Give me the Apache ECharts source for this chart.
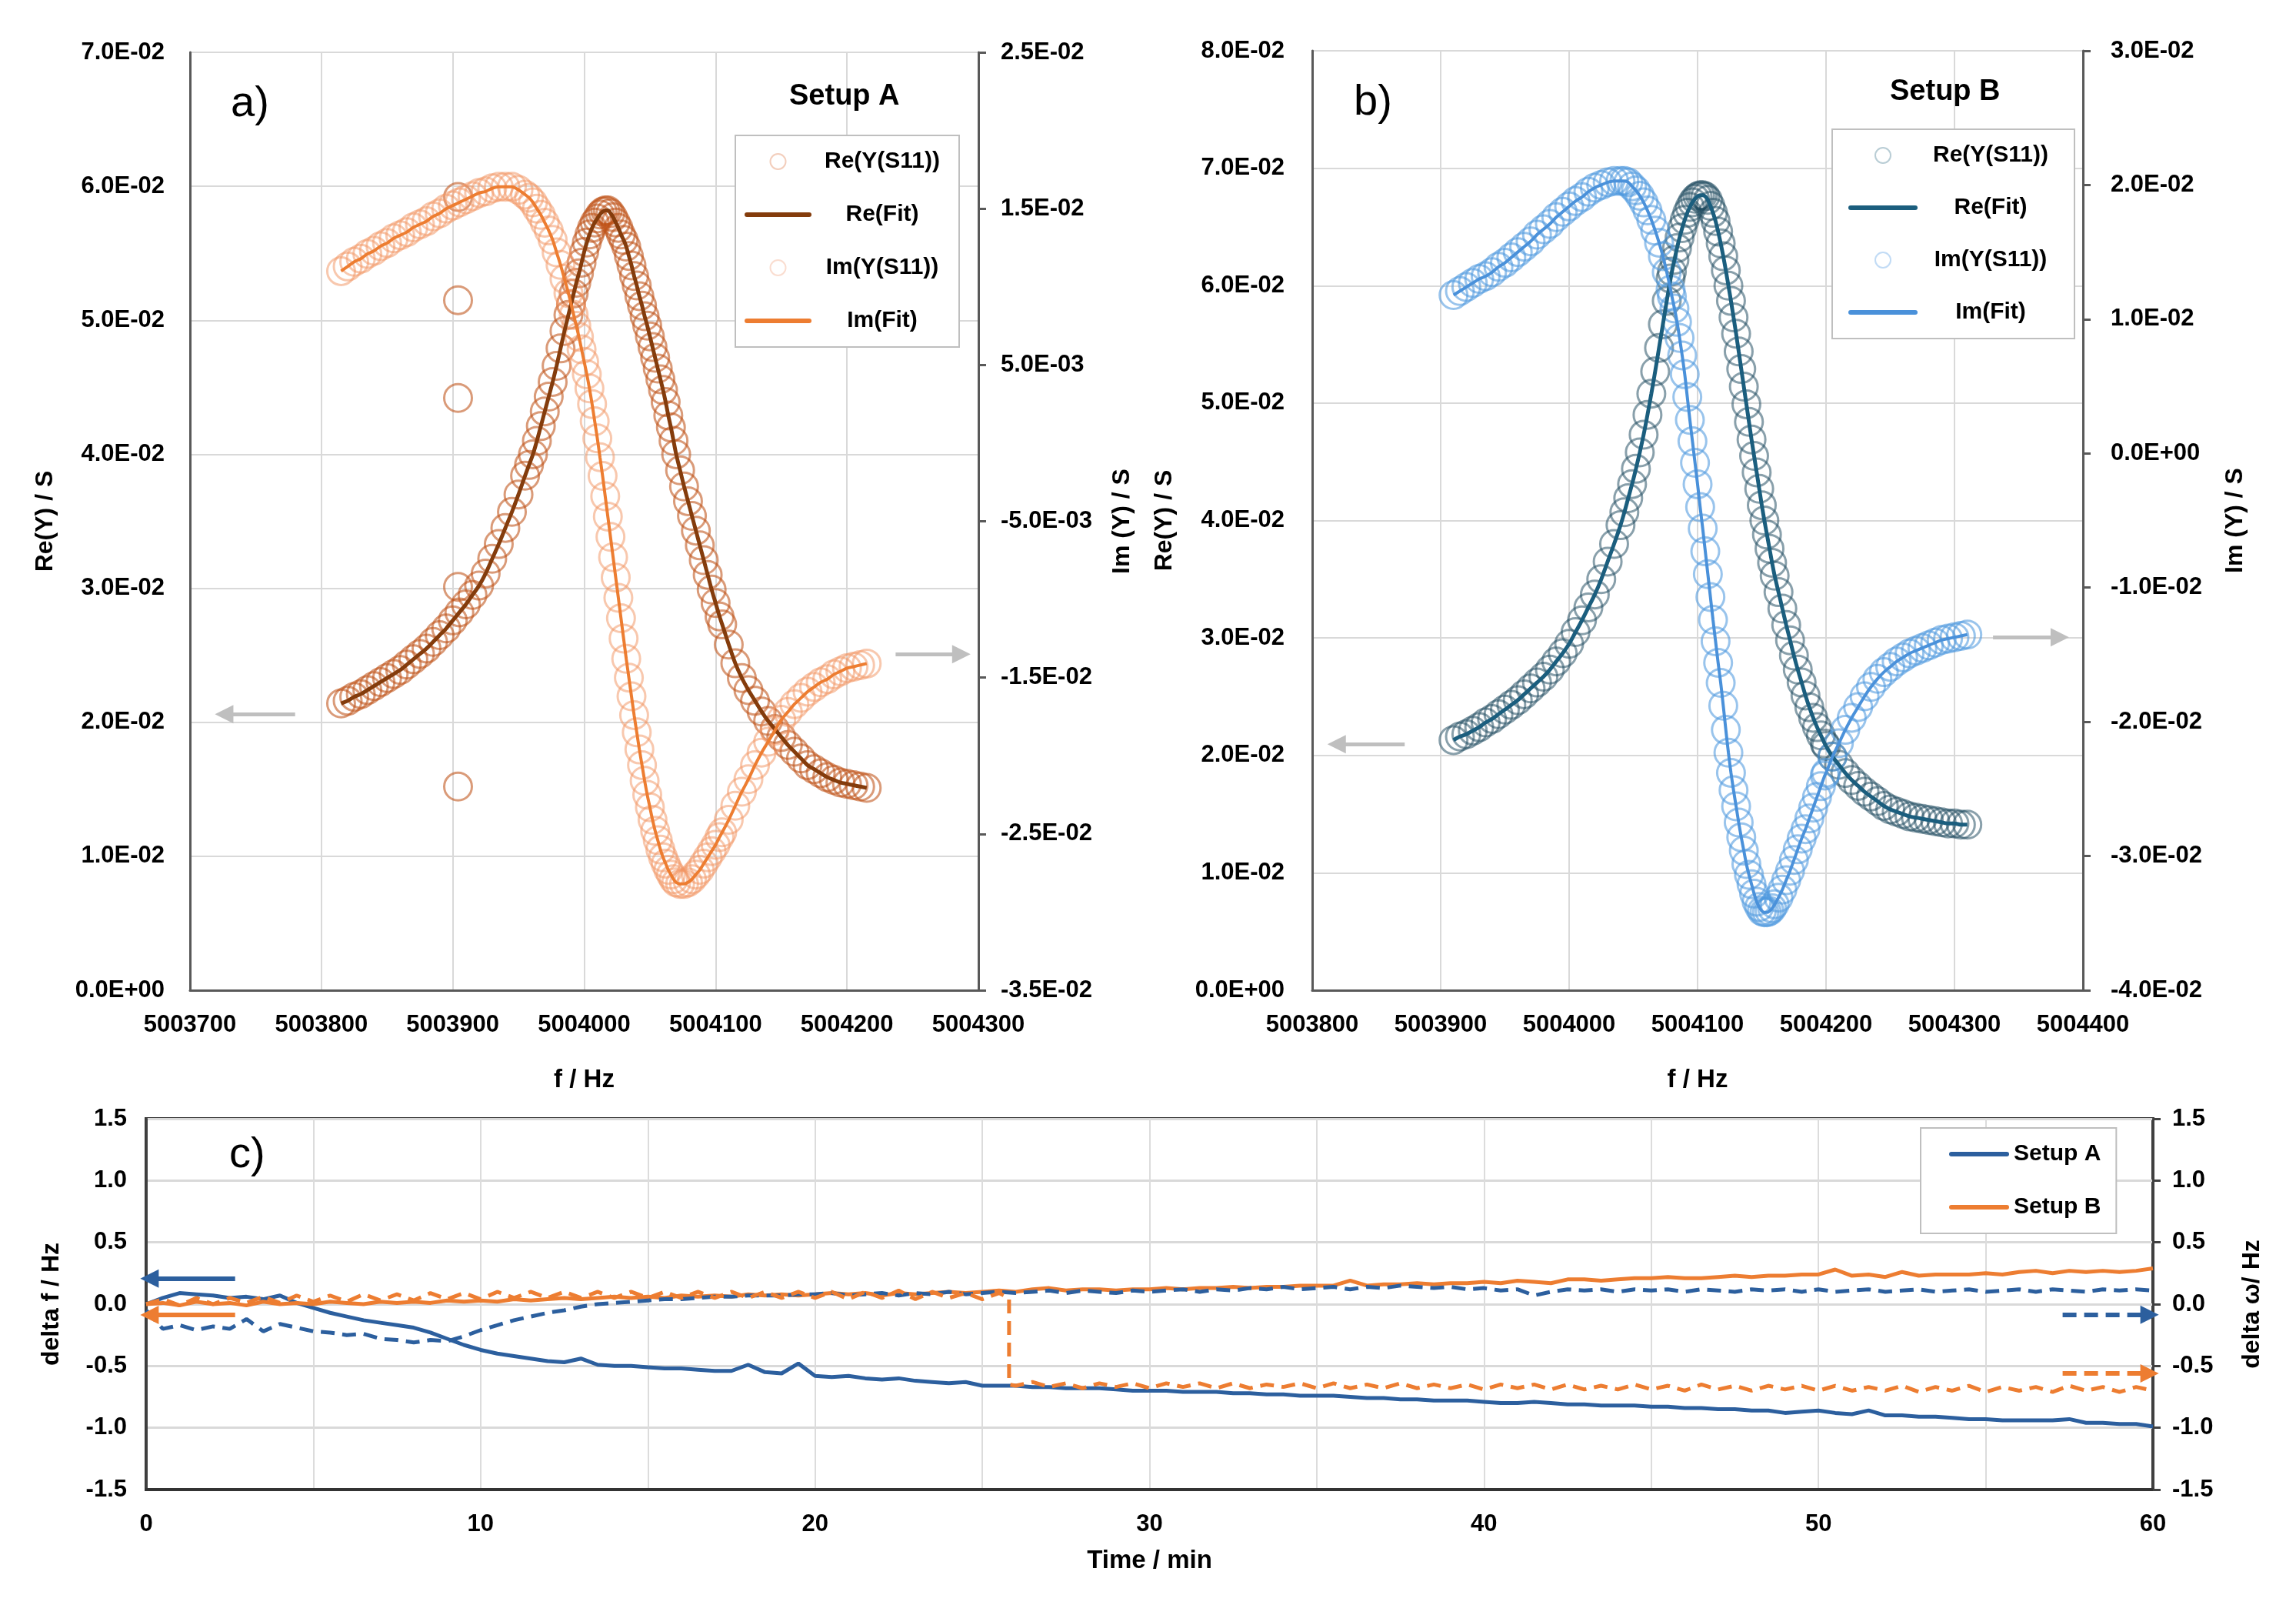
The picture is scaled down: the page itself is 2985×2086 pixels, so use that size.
<!DOCTYPE html>
<html>
<head>
<meta charset="utf-8">
<title>Resonance fits and drift</title>
<script src="https://cdn.jsdelivr.net/npm/echarts@6/dist/echarts.min.js"></script>
<style>
html, body { margin: 0; padding: 0; background: #fff; }
#chart { width: 2985px; height: 2086px; }
</style>
</head>
<body>
<div id="chart"></div>
<script>
// ---- panel a) Setup A : frequency sweep (Hz) and admittance (S) ----
var freqA = [5003815,5003820,5003825,5003830,5003835,5003840,5003845,5003850,5003855,5003860,
  5003865,5003870,5003875,5003880,5003885,5003890,5003895,5003900,5003905,5003910,
  5003915,5003920,5003925,5003930,5003935,5003940,5003945,5003950,5003955,
  5003958,5003961,5003964,5003967,5003970,5003973,5003976,5003979,5003982,5003985,5003988,
  5003990,5003992,5003994,5003996,5003998,5004000,5004002,5004004,5004006,5004008,
  5004010,5004012,5004014,5004016,5004018,5004020,5004022,5004024,5004026,5004028,
  5004030,5004032,5004034,5004036,5004038,5004040,5004042,5004044,5004046,5004048,
  5004050,5004052,5004054,5004056,5004058,5004060,5004062,5004064,5004066,5004068,5004070,
  5004073,5004076,5004079,5004082,5004085,5004088,5004091,5004094,5004097,5004100,5004103,
  5004105,5004110,5004115,5004120,5004125,5004130,5004135,5004140,5004145,5004150,
  5004155,5004160,5004165,5004170,5004175,5004180,5004185,5004190,5004195,5004200,
  5004205,5004210,5004215];
var reA = [0.0214,0.0216,0.0219,0.0221,0.0224,0.0227,0.0230,0.0233,0.0236,0.0239,
  0.0243,0.0247,0.0251,0.0255,0.0260,0.0265,0.0270,0.0276,0.0282,0.0288,
  0.0295,0.0302,0.0311,0.0322,0.0333,0.0345,0.0357,0.0370,0.0384,
  0.0392,0.0400,0.0410,0.0421,0.0432,0.0443,0.0454,0.0466,0.0479,0.0492,0.0504,
  0.0512,0.0520,0.0528,0.0535,0.0543,0.0551,0.0558,0.0564,0.0569,0.0573,
  0.0576,0.0579,0.0581,0.0582,0.0582,0.0580,0.0577,0.0573,0.0569,0.0564,
  0.0560,0.0555,0.0548,0.0541,0.0533,0.0526,0.0518,0.0511,0.0503,0.0496,
  0.0488,0.0480,0.0472,0.0464,0.0456,0.0448,0.0439,0.0429,0.0420,0.0410,0.0400,
  0.0388,0.0376,0.0365,0.0354,0.0343,0.0332,0.0321,0.0310,0.0299,0.0289,0.0279,
  0.0273,0.0258,0.0244,0.0233,0.0224,0.0216,0.0208,0.0201,0.0195,0.0189,
  0.0183,0.0178,0.0173,0.0168,0.0165,0.0162,0.0159,0.0157,0.0155,0.0154,
  0.0153,0.0152,0.0151];
var imA = [0.0110,0.0113,0.0116,0.0118,0.0121,0.0123,0.0126,0.0128,0.0131,0.0133,
  0.0135,0.0138,0.0140,0.0142,0.0145,0.0147,0.0150,0.0152,0.0154,0.0156,
  0.0158,0.0160,0.0161,0.0163,0.0164,0.0164,0.0164,0.0162,0.0159,
  0.0157,0.0154,0.0150,0.0146,0.0141,0.0136,0.0130,0.0122,0.0114,0.0105,0.0096,
  0.0089,0.0082,0.0075,0.0068,0.0060,0.0052,0.0044,0.0035,0.0025,0.0014,
  0.0003,-0.0009,-0.0021,-0.0034,-0.0047,-0.0060,-0.0073,-0.0086,-0.0099,-0.0112,
  -0.0125,-0.0138,-0.0150,-0.0162,-0.0174,-0.0185,-0.0196,-0.0206,-0.0216,-0.0225,
  -0.0233,-0.0241,-0.0248,-0.0254,-0.0260,-0.0265,-0.0269,-0.0273,-0.0276,-0.0279,-0.0281,
  -0.0282,-0.0282,-0.0281,-0.0279,-0.0276,-0.0273,-0.0269,-0.0265,-0.0261,-0.0257,-0.0252,
  -0.0249,-0.0241,-0.0232,-0.0223,-0.0215,-0.0206,-0.0198,-0.0191,-0.0184,-0.0177,
  -0.0172,-0.0167,-0.0163,-0.0159,-0.0156,-0.0153,-0.0151,-0.0148,-0.0146,-0.0144,
  -0.0143,-0.0142,-0.0141];
// stray Re points near 5003904 Hz
var outliersA = [[5003904, 0.0592], [5003904, 0.0515], [5003904, 0.0442], [5003904, 0.0301], [5003904, 0.0152]];

// ---- panel b) Setup B ----
var freqB = [5003910,5003915,5003920,5003925,5003930,5003935,5003940,5003945,5003950,5003955,
  5003960,5003965,5003970,5003975,5003980,5003985,5003990,5003995,5004000,5004005,
  5004010,5004015,5004020,5004025,5004030,5004035,5004040,
  5004043,5004046,5004049,5004052,5004055,5004058,5004061,5004064,5004067,5004070,5004073,5004076,5004079,
  5004080,5004082,5004084,5004086,5004088,5004090,5004092,5004094,5004096,5004098,
  5004100,5004102,5004104,5004106,5004108,5004110,5004112,5004114,5004116,5004118,
  5004120,5004122,5004124,5004126,5004128,5004130,5004132,5004134,5004136,5004138,
  5004140,5004142,5004144,5004146,5004148,5004150,5004152,5004154,5004156,5004158,5004160,
  5004163,5004166,5004169,5004172,5004175,5004178,5004181,5004184,5004187,5004190,5004193,5004196,5004199,
  5004200,5004205,5004210,5004215,5004220,5004225,5004230,5004235,5004240,5004245,
  5004250,5004255,5004260,5004265,5004270,5004275,5004280,5004285,5004290,5004295,
  5004300,5004305,5004310];
var reB = [0.0213,0.0216,0.0218,0.0221,0.0224,0.0228,0.0231,0.0235,0.0239,0.0243,
  0.0247,0.0252,0.0257,0.0262,0.0267,0.0273,0.0280,0.0287,0.0295,0.0305,
  0.0315,0.0326,0.0337,0.0350,0.0365,0.0380,0.0396,
  0.0407,0.0419,0.0431,0.0444,0.0458,0.0473,0.0490,0.0508,0.0527,0.0547,0.0567,0.0587,0.0606,
  0.0612,0.0622,0.0632,0.0641,0.0649,0.0656,0.0662,0.0667,0.0671,0.0674,
  0.0676,0.0677,0.0677,0.0676,0.0673,0.0668,0.0662,0.0655,0.0646,0.0636,
  0.0625,0.0613,0.0600,0.0587,0.0573,0.0559,0.0544,0.0529,0.0514,0.0499,
  0.0484,0.0469,0.0455,0.0441,0.0427,0.0413,0.0400,0.0388,0.0376,0.0364,0.0353,
  0.0339,0.0325,0.0311,0.0298,0.0285,0.0273,0.0262,0.0251,0.0241,0.0232,0.0224,0.0217,0.0210,
  0.0208,0.0199,0.0192,0.0185,0.0179,0.0174,0.0169,0.0165,0.0161,0.0157,
  0.0154,0.0152,0.0150,0.0148,0.0147,0.0146,0.0145,0.0144,0.0143,0.0142,
  0.0142,0.0141,0.0141];
var imB = [0.0118,0.0121,0.0124,0.0127,0.0130,0.0132,0.0135,0.0139,0.0142,0.0146,
  0.0150,0.0154,0.0158,0.0163,0.0167,0.0171,0.0176,0.0180,0.0184,0.0188,
  0.0191,0.0195,0.0198,0.0200,0.0202,0.0203,0.0203,
  0.0203,0.0202,0.0199,0.0196,0.0192,0.0187,0.0181,0.0174,0.0166,0.0157,0.0147,0.0135,0.0122,
  0.0117,0.0108,0.0098,0.0086,0.0073,0.0059,0.0042,0.0025,0.0009,-0.0007,
  -0.0023,-0.0040,-0.0056,-0.0073,-0.0090,-0.0107,-0.0124,-0.0140,-0.0156,-0.0171,
  -0.0188,-0.0206,-0.0223,-0.0238,-0.0251,-0.0263,-0.0275,-0.0286,-0.0296,-0.0306,
  -0.0314,-0.0321,-0.0328,-0.0334,-0.0338,-0.0341,-0.0342,-0.0342,-0.0341,-0.0339,-0.0336,
  -0.0331,-0.0325,-0.0318,-0.0311,-0.0303,-0.0295,-0.0287,-0.0280,-0.0272,-0.0264,-0.0256,-0.0248,-0.0240,
  -0.0238,-0.0226,-0.0216,-0.0206,-0.0197,-0.0189,-0.0181,-0.0174,-0.0168,-0.0163,
  -0.0159,-0.0155,-0.0152,-0.0149,-0.0147,-0.0145,-0.0143,-0.0141,-0.0139,-0.0138,
  -0.0137,-0.0136,-0.0135];

// ---- panel c) drift over time (min) ----
var time = [0,0.5,1,1.5,2,2.5,3,3.5,4,4.5,5,5.5,6,6.5,7,7.5,8,8.5,9,9.5,
  10,10.5,11,11.5,12,12.5,13,13.5,14,14.5,15,15.5,16,16.5,17,17.5,18,18.5,19,19.5,
  20,20.5,21,21.5,22,22.5,23,23.5,24,24.5,25,25.5,26,26.5,27,27.5,28,28.5,29,29.5,
  30,30.5,31,31.5,32,32.5,33,33.5,34,34.5,35,35.5,36,36.5,37,37.5,38,38.5,39,39.5,
  40,40.5,41,41.5,42,42.5,43,43.5,44,44.5,45,45.5,46,46.5,47,47.5,48,48.5,49,49.5,
  50,50.5,51,51.5,52,52.5,53,53.5,54,54.5,55,55.5,56,56.5,57,57.5,58,58.5,59,59.5,60];
var dfA = [0.00,0.05,0.09,0.08,0.07,0.05,0.06,0.04,0.07,0.01,
  -0.03,-0.07,-0.10,-0.13,-0.15,-0.17,-0.19,-0.23,-0.28,-0.33,
  -0.37,-0.40,-0.42,-0.44,-0.46,-0.47,-0.44,-0.49,-0.50,-0.50,
  -0.51,-0.52,-0.52,-0.53,-0.54,-0.54,-0.49,-0.55,-0.56,-0.48,
  -0.58,-0.59,-0.58,-0.60,-0.61,-0.60,-0.62,-0.63,-0.64,-0.63,
  -0.66,-0.66,-0.66,-0.67,-0.67,-0.68,-0.68,-0.68,-0.69,-0.70,
  -0.70,-0.70,-0.71,-0.71,-0.71,-0.72,-0.72,-0.73,-0.73,-0.74,
  -0.74,-0.74,-0.75,-0.76,-0.76,-0.77,-0.77,-0.78,-0.78,-0.78,
  -0.79,-0.80,-0.80,-0.79,-0.80,-0.81,-0.81,-0.82,-0.82,-0.82,
  -0.83,-0.83,-0.84,-0.84,-0.85,-0.85,-0.86,-0.86,-0.88,-0.87,
  -0.86,-0.88,-0.89,-0.86,-0.90,-0.90,-0.91,-0.91,-0.92,-0.93,
  -0.93,-0.94,-0.94,-0.94,-0.94,-0.93,-0.96,-0.96,-0.97,-0.97,-0.99];
var dwA = [-0.05,-0.20,-0.17,-0.21,-0.18,-0.20,-0.12,-0.22,-0.16,-0.19,
  -0.22,-0.23,-0.25,-0.24,-0.28,-0.29,-0.31,-0.29,-0.30,-0.26,
  -0.21,-0.17,-0.13,-0.10,-0.07,-0.05,-0.02,0.00,0.01,0.02,
  0.03,0.04,0.04,0.05,0.06,0.06,0.07,0.07,0.07,0.08,
  0.08,0.09,0.07,0.08,0.09,0.07,0.09,0.08,0.10,0.08,
  0.09,0.10,0.09,0.10,0.11,0.09,0.11,0.10,0.09,0.11,
  0.10,0.11,0.12,0.10,0.12,0.11,0.13,0.12,0.14,0.12,
  0.13,0.14,0.12,0.14,0.13,0.15,0.14,0.13,0.14,0.12,
  0.13,0.11,0.12,0.07,0.10,0.12,0.11,0.12,0.10,0.12,
  0.11,0.12,0.10,0.12,0.11,0.10,0.12,0.11,0.12,0.10,
  0.12,0.10,0.11,0.12,0.10,0.11,0.12,0.10,0.11,0.12,
  0.10,0.11,0.12,0.10,0.12,0.11,0.10,0.12,0.11,0.12,0.11];
var dfB = [0.00,0.01,-0.01,0.02,0.00,0.01,-0.01,0.02,0.00,0.01,
  0.00,0.02,0.01,0.00,0.02,0.01,0.02,0.01,0.03,0.02,
  0.03,0.02,0.04,0.03,0.04,0.05,0.04,0.05,0.06,0.05,
  0.06,0.05,0.07,0.06,0.07,0.06,0.08,0.07,0.08,0.07,
  0.08,0.09,0.08,0.09,0.07,0.09,0.08,0.09,0.10,0.09,
  0.10,0.11,0.10,0.12,0.13,0.11,0.12,0.12,0.11,0.12,
  0.12,0.13,0.12,0.13,0.13,0.14,0.13,0.14,0.14,0.15,
  0.15,0.15,0.19,0.15,0.16,0.16,0.17,0.16,0.17,0.17,
  0.18,0.17,0.19,0.18,0.17,0.20,0.20,0.19,0.20,0.21,
  0.21,0.22,0.21,0.21,0.22,0.23,0.22,0.23,0.23,0.24,
  0.24,0.28,0.23,0.24,0.22,0.26,0.23,0.24,0.24,0.24,
  0.25,0.24,0.26,0.27,0.25,0.27,0.26,0.27,0.26,0.27,0.29];
var dwB = [0.00,0.04,-0.01,0.05,0.00,0.05,0.01,0.06,0.01,0.07,
  0.02,0.07,0.02,0.08,0.03,0.08,0.03,0.09,0.04,0.09,
  0.04,0.10,0.05,0.10,0.05,0.10,0.05,0.10,0.05,0.10,
  0.05,0.10,0.05,0.10,0.05,0.10,0.05,0.10,0.05,0.10,
  0.05,0.10,0.04,0.10,0.05,0.11,0.04,0.10,0.05,0.09,
  0.04,0.09,
  -0.66,-0.63,-0.67,-0.64,-0.68,-0.64,-0.67,-0.64,
  -0.68,-0.64,-0.67,-0.64,-0.68,-0.64,-0.68,-0.65,-0.67,-0.64,
  -0.68,-0.64,-0.68,-0.65,-0.68,-0.64,-0.68,-0.65,-0.68,-0.65,
  -0.69,-0.65,-0.68,-0.65,-0.69,-0.65,-0.69,-0.66,-0.69,-0.65,
  -0.69,-0.66,-0.70,-0.65,-0.69,-0.66,-0.70,-0.66,-0.69,-0.66,
  -0.70,-0.66,-0.70,-0.67,-0.70,-0.66,-0.71,-0.67,-0.70,-0.66,
  -0.71,-0.67,-0.70,-0.67,-0.71,-0.66,-0.70,-0.67,-0.71,-0.67,-0.70];
// the Setup B omega trace steps down at 25.8 min
var stepB = [[25.8, 0.05], [25.8, -0.65]];

var FONT = "'Liberation Sans', Arial, sans-serif";
var BLUE = '#2C5F9E', ORANGE = '#ED7D31', ARROW = '#bfbfbf';

function pairs(xs, ys) {
  var out = [];
  for (var i = 0; i < xs.length; i++) out.push([xs[i], ys[i]]);
  return out;
}
function sci(v) {
  if (Math.abs(v) < 1e-10) return '0.0E+00';
  var p = v.toExponential(1).split('e');
  var e = parseInt(p[1], 10);
  return p[0] + 'E' + (e < 0 ? '-' : '+') + (Math.abs(e) < 10 ? '0' : '') + Math.abs(e);
}
var bwData = pairs(time.slice(0, 52), dwB.slice(0, 52)).concat(stepB, pairs(time.slice(52), dwB.slice(52)));

function txt(size, weight) {
  return { fontSize: size, fontWeight: weight || 'bold', color: '#000', fontFamily: FONT };
}
function freqAxis(grid, min, max) {
  return {
    gridIndex: grid, type: 'value', min: min, max: max, interval: 100,
    name: 'f / Hz', nameLocation: 'middle', nameGap: 100, nameTextStyle: txt(33),
    axisLine: { show: true, onZero: false, lineStyle: { color: '#595959', width: 3 } },
    axisTick: { show: false },
    axisLabel: Object.assign(txt(31), { margin: 30, hideOverlap: false, formatter: function (v) { return String(Math.round(v)); } }),
    splitLine: { show: true, lineStyle: { color: '#d9d9d9', width: 2 } }
  };
}
function sAxis(grid, pos, min, max, name, gap, margin) {
  return {
    gridIndex: grid, type: 'value', position: pos, min: min, max: max, interval: 0.01,
    name: name, nameLocation: 'middle', nameRotate: 90, nameGap: gap, nameTextStyle: txt(32),
    axisLine: { show: true, onZero: false, lineStyle: { color: '#595959', width: 3 } },
    axisTick: { show: pos === 'right', length: 10, lineStyle: { color: '#595959', width: 3 } },
    axisLabel: Object.assign(txt(31), { margin: margin, hideOverlap: false, formatter: sci }),
    splitLine: { show: pos === 'left', lineStyle: { color: '#d9d9d9', width: 2 } }
  };
}
function cAxis(pos, name, gap) {
  return {
    gridIndex: 2, type: 'value', position: pos, min: -1.5, max: 1.5, interval: 0.5,
    name: name, nameLocation: 'middle', nameRotate: 90, nameGap: gap, nameTextStyle: txt(32),
    axisLine: { show: true, onZero: false, lineStyle: { color: '#404040', width: 3 } },
    axisTick: { show: pos === 'right', length: 10, lineStyle: { color: '#404040', width: 3 } },
    axisLabel: Object.assign(txt(31), { margin: 25, hideOverlap: false, formatter: function (v) { return v.toFixed(1); } }),
    splitLine: { show: pos === 'left', lineStyle: { color: '#d9d9d9', width: 3 } }
  };
}
function arrow(from, to, color, width, dashed) {
  return {
    silent: true, animation: false, symbol: ['none', 'triangle'], symbolSize: [24, 24],
    label: { show: false }, emphasis: { disabled: true },
    lineStyle: { color: color, width: width, type: dashed ? [18, 10] : 'solid', opacity: 1 },
    data: [[{ coord: from }, { coord: to }]]
  };
}
function dots(name, x, y, data, color) {
  return {
    name: name, type: 'scatter', xAxisIndex: x, yAxisIndex: y, data: data, z: 2,
    symbol: 'circle', symbolSize: 36, animation: false, silent: true,
    itemStyle: { color: 'rgba(0,0,0,0)', borderColor: color, borderWidth: 3 }
  };
}
function fit(name, x, y, data, color, width, mark) {
  return {
    name: name, type: 'line', xAxisIndex: x, yAxisIndex: y, data: data, z: 3,
    symbol: 'none', showSymbol: false, smooth: 0.3, animation: false, silent: true,
    itemStyle: { color: color }, lineStyle: { color: color, width: width }, markLine: mark
  };
}
function trace(name, y, data, color, dashed, mark) {
  return {
    name: name, type: 'line', xAxisIndex: 2, yAxisIndex: y, data: data, z: 3,
    symbol: 'none', showSymbol: false, animation: false, silent: true,
    itemStyle: { color: color },
    lineStyle: { color: color, width: 5, type: dashed ? [18, 10] : 'solid' }, markLine: mark
  };
}
// legend entries: circles drawn lighter, line entries as a thick bar without the marker dot
function dotItem(name, color) { return { name: name, itemStyle: { color: 'rgba(0,0,0,0)', borderColor: color, borderWidth: 2 } }; }
function lineItem(name) { return { name: name, itemStyle: { opacity: 0 }, lineStyle: { width: 6, cap: 'round' } }; }
function panelLegend(left, top, pad, gap, iconW, textW, items) {
  return {
    orient: 'vertical', left: left, top: top, padding: pad, itemGap: gap,
    itemWidth: iconW, itemHeight: 20, selectedMode: false,
    borderColor: '#bfbfbf', borderWidth: 2, backgroundColor: '#fff',
    data: items,
    formatter: function (n) { return '{t|' + n.replace(/\u200b/g, '') + '}'; },
    textStyle: { rich: { t: { width: textW, align: 'center', fontSize: 30, fontWeight: 'bold', color: '#000', fontFamily: FONT, lineHeight: 34 } } }
  };
}
function label(text, left, top, size, weight) {
  return { text: text, left: left, top: top, padding: 0, textStyle: txt(size, weight) };
}

var ZW = '\u200b';
var option = {
  backgroundColor: '#fff',
  animation: false,
  textStyle: { fontFamily: FONT },
  title: [
    label('a)', 300, 108, 56, 'normal'),
    label('b)', 1760, 106, 56, 'normal'),
    label('c)', 298, 1474, 56, 'normal'),
    label('Setup A', 1026, 107, 38),
    label('Setup B', 2457, 101, 38)
  ],
  legend: [
    panelLegend(956, 176, [19, 10, 19, 12], 39, 81, 180, [
      dotItem('Re(Y(S11))', 'rgba(222,120,70,0.45)'), lineItem('Re(Fit)'),
      dotItem('Im(Y(S11))', 'rgba(240,150,110,0.4)'), lineItem('Im(Fit)')]),
    panelLegend(2382, 168, [19, 16, 19, 21], 38, 84, 186, [
      dotItem('Re(Y(S11))' + ZW, 'rgba(80,130,150,0.5)'), lineItem('Re(Fit)' + ZW),
      dotItem('Im(Y(S11))' + ZW, 'rgba(100,165,230,0.5)'), lineItem('Im(Fit)' + ZW)]),
    {
      orient: 'vertical', left: 2497, top: 1466, padding: [17, 20, 17, 37], itemGap: 35,
      itemWidth: 72, itemHeight: 20, selectedMode: false,
      borderColor: '#bfbfbf', borderWidth: 2, backgroundColor: '#fff',
      data: [lineItem('Setup A'), lineItem('Setup B')],
      textStyle: { fontSize: 30, fontWeight: 'bold', color: '#000', fontFamily: FONT, lineHeight: 34, padding: [0, 0, 0, 4] }
    }
  ],
  grid: [
    { left: 247, top: 68, width: 1025, height: 1219, show: true, borderColor: '#8c8c8c', borderWidth: 2, containLabel: false, outerBoundsMode: 'none' },
    { left: 1706, top: 66, width: 1002, height: 1221, show: true, borderColor: '#8c8c8c', borderWidth: 2, containLabel: false, outerBoundsMode: 'none' },
    { left: 190, top: 1454, width: 2609, height: 482, show: true, borderColor: '#333', borderWidth: 4, containLabel: false, outerBoundsMode: 'none' }
  ],
  xAxis: [
    freqAxis(0, 5003700, 5004300),
    freqAxis(1, 5003800, 5004400),
    {
      gridIndex: 2, type: 'value', min: 0, max: 60, interval: 5,
      name: 'Time / min', nameLocation: 'middle', nameGap: 76, nameTextStyle: txt(33),
      axisLine: { show: true, onZero: false, lineStyle: { color: '#333', width: 4 } },
      axisTick: { show: false },
      axisLabel: Object.assign(txt(31), { margin: 30, hideOverlap: false, formatter: function (v) { return v % 10 === 0 ? String(v) : ''; } }),
      splitLine: { show: true, lineStyle: { color: '#dcdcdc', width: 2 } }
    }
  ],
  yAxis: [
    sAxis(0, 'left', 0, 0.07, 'Re(Y) / S', 172, 33),
    sAxis(0, 'right', -0.035, 0.025, 'Im (Y) / S', 171, 29),
    sAxis(1, 'left', 0, 0.08, 'Re(Y) / S', 176, 36),
    sAxis(1, 'right', -0.04, 0.03, 'Im (Y) / S', 182, 36),
    cAxis('left', 'delta f / Hz', 107),
    cAxis('right', 'delta \u03c9/ Hz', 113)
  ],
  series: [
    dots('Re(Y(S11))', 0, 0, pairs(freqA, reA).concat(outliersA), 'rgba(190,82,22,0.72)'),
    dots('Im(Y(S11))', 0, 1, pairs(freqA, imA), 'rgba(242,150,100,0.66)'),
    fit('Re(Fit)', 0, 0, pairs(freqA, reA), '#843C0C', 5, arrow([5003780, 0.0206], [5003726, 0.0206], ARROW, 5)),
    fit('Im(Fit)', 0, 1, pairs(freqA, imA), ORANGE, 4, arrow([5004237, -0.0135], [5004287, -0.0135], ARROW, 5)),

    dots('Re(Y(S11))' + ZW, 1, 2, pairs(freqB, reB), 'rgba(30,75,95,0.66)'),
    dots('Im(Y(S11))' + ZW, 1, 3, pairs(freqB, imB), 'rgba(78,152,222,0.72)'),
    fit('Re(Fit)' + ZW, 1, 2, pairs(freqB, reB), '#1B5E7E', 5, arrow([5003872, 0.02095], [5003819, 0.02095], ARROW, 5)),
    fit('Im(Fit)' + ZW, 1, 3, pairs(freqB, imB), '#4A91DA', 4, arrow([5004330, -0.0137], [5004382, -0.0137], ARROW, 5)),

    trace('Setup A', 4, pairs(time, dfA), BLUE, false, arrow([2.66, 0.207], [0.1, 0.207], BLUE, 6)),
    trace('Setup B', 4, pairs(time, dfB), ORANGE, false, arrow([2.66, -0.087], [0.1, -0.087], ORANGE, 6)),
    trace('Setup A \u03c9', 5, pairs(time, dwA), BLUE, true, arrow([57.3, -0.085], [59.9, -0.085], BLUE, 6, true)),
    trace('Setup B \u03c9', 5, bwData, ORANGE, true, arrow([57.3, -0.56], [59.9, -0.56], ORANGE, 6, true))
  ]
};

var chart = echarts.init(document.getElementById('chart'));
chart.setOption(option);
</script>
</body>
</html>
